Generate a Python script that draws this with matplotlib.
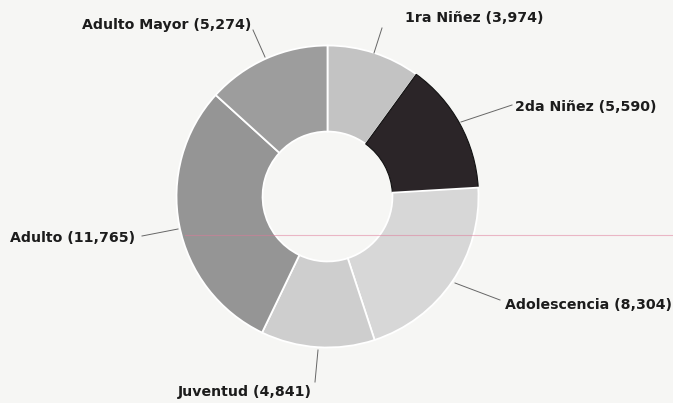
import matplotlib
matplotlib.use("Agg")
import matplotlib.pyplot as plt

categories = ["1ra Niñez", "2da Niñez", "Adolescencia", "Juventud", "Adulto", "Adulto Mayor"]
values = [3974, 5590, 8304, 4841, 11765, 5274]
colors = ["#c3c3c3", "#2b2528", "#d7d7d7", "#cecece", "#959595", "#9d9d9d"]

W, H = 673, 403
fig = plt.figure(figsize=(W / 100, H / 100), dpi=100, facecolor="#f6f6f4")
ax = fig.add_axes([0, 0, 1, 1])
ax.set_facecolor("#f6f6f4")

cx, cy, R = 327.5, H - 196.5, 151
wedges, _ = ax.pie(values, colors=colors, startangle=90, counterclock=False,
                   center=(cx, cy), radius=R,
                   wedgeprops=dict(width=R * 0.57, edgecolor="white", linewidth=1.3))
wedges[1].set_edgecolor("#111111")
wedges[1].set_linewidth(0.8)

# label text position (left x, center y in image coords), anchor at label, anchor at ring
labels = [
    (405, 18, (382, 28), (374, 53)),
    (515, 107, (512, 105), (461, 122)),
    (505, 305, (500, 300), (455, 283)),
    (178, 392, (315, 382), (318, 350)),
    (10, 238, (142, 236), (178, 229)),
    (82, 25, (253, 30), (265, 57)),
]
for name, v, (tx, ty, p0, p1) in zip(categories, values, labels):
    ax.text(tx, H - ty, f"{name} ({v:,})", fontsize=10.2, fontweight="bold",
            color="#1c1c1c", ha="left", va="center", family="DejaVu Sans")
    ax.plot([p0[0], p1[0]], [H - p0[1], H - p1[1]], color="#666666", lw=0.7)

# faint scan artifact line
ax.plot([185, 673], [H - 235, H - 235], color="#e07898", lw=0.8, alpha=0.5, zorder=5)

ax.set_xlim(0, W)
ax.set_ylim(0, H)
ax.set_aspect("auto")
ax.axis("off")
fig.savefig("out.png", dpi=100, facecolor=fig.get_facecolor())
